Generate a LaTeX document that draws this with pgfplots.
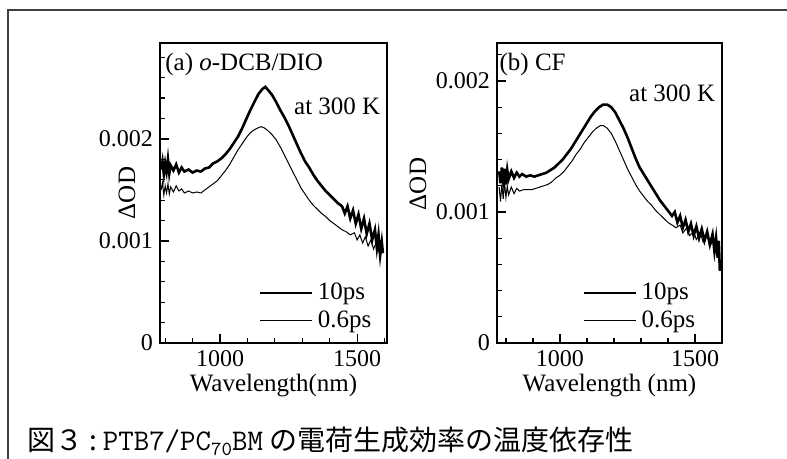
\documentclass[border=0pt]{standalone}
\usepackage{fontspec}
\setmainfont{Liberation Serif}
\newfontfamily\cjk{Noto Sans CJK JP}
\usepackage{pgfplots}
\pgfplotsset{compat=1.18}

% panel (a): o-DCB/DIO
\pgfplotstableread{
wl od
785 0.00170
790 0.00178
795 0.00165
800 0.00176
805 0.00168
810 0.00180
815 0.00166
820 0.00174
830 0.00169
840 0.00175
850 0.00167
860 0.00172
870 0.00168
885 0.00170
900 0.00167
915 0.00169
930 0.00168
945 0.00171
960 0.00172
975 0.00176
990 0.00178
1005 0.00181
1020 0.00185
1035 0.00190
1050 0.00196
1065 0.00202
1080 0.00210
1095 0.00219
1110 0.00228
1125 0.00236
1140 0.00244
1155 0.00249
1165 0.00251
1175 0.00248
1190 0.00243
1205 0.00236
1220 0.00228
1235 0.00221
1250 0.00213
1265 0.00204
1280 0.00195
1295 0.00186
1310 0.00178
1325 0.00172
1340 0.00165
1355 0.00159
1370 0.00154
1385 0.00149
1400 0.00145
1415 0.00141
1430 0.00137
1445 0.00134
1455 0.00127
1465 0.00134
1475 0.00122
1485 0.00130
1495 0.00117
1505 0.00126
1515 0.00112
1525 0.00122
1535 0.00107
1545 0.00117
1555 0.00101
1565 0.00111
1572 0.00093
1578 0.00106
1584 0.00086
1590 0.00099
1594 0.00088
}\aTen
\pgfplotstableread{
wl od
785 0.00150
790 0.00157
795 0.00145
800 0.00154
805 0.00147
810 0.00156
815 0.00146
820 0.00153
830 0.00148
840 0.00154
850 0.00149
860 0.00151
870 0.00147
885 0.00149
900 0.00147
915 0.00148
930 0.00147
945 0.00150
960 0.00153
975 0.00156
990 0.00159
1005 0.00164
1020 0.00169
1035 0.00175
1050 0.00182
1065 0.00189
1080 0.00195
1095 0.00201
1110 0.00206
1125 0.00209
1140 0.00211
1150 0.00212
1160 0.00211
1175 0.00208
1190 0.00204
1205 0.00199
1220 0.00192
1235 0.00184
1250 0.00176
1265 0.00168
1280 0.00160
1295 0.00152
1310 0.00146
1325 0.00140
1340 0.00135
1355 0.00131
1370 0.00127
1385 0.00124
1400 0.00120
1415 0.00117
1430 0.00114
1445 0.00111
1460 0.00109
1475 0.00106
1490 0.00108
1500 0.00101
1510 0.00106
1520 0.00098
1530 0.00104
1540 0.00095
1550 0.00101
1560 0.00092
1570 0.00099
1580 0.00089
1590 0.00095
}\aSix

% panel (b): CF
\pgfplotstableread{
wl od
775 0.00131
780 0.00122
785 0.00134
790 0.00124
795 0.00133
800 0.00121
805 0.00132
810 0.00125
820 0.00131
830 0.00126
840 0.00130
850 0.00127
860 0.00129
875 0.00127
890 0.00128
905 0.00127
920 0.00128
935 0.00129
950 0.00130
965 0.00132
980 0.00134
995 0.00137
1010 0.00140
1025 0.00144
1040 0.00148
1055 0.00153
1070 0.00158
1085 0.00163
1100 0.00168
1115 0.00173
1130 0.00177
1145 0.00180
1160 0.00182
1175 0.00182
1190 0.00180
1205 0.00176
1220 0.00170
1235 0.00164
1250 0.00157
1265 0.00149
1280 0.00141
1295 0.00134
1310 0.00129
1325 0.00124
1340 0.00119
1355 0.00114
1370 0.00109
1385 0.00105
1400 0.00101
1415 0.00097
1425 0.00100
1435 0.00092
1445 0.00097
1455 0.00088
1465 0.00094
1475 0.00085
1485 0.00091
1495 0.00082
1505 0.00089
1515 0.00080
1525 0.00087
1535 0.00078
1545 0.00085
1555 0.00075
1565 0.00083
1572 0.00070
1578 0.00080
1584 0.00065
1588 0.00078
1592 0.00055
}\bTen
\pgfplotstableread{
wl od
775 0.00119
780 0.00108
785 0.00121
790 0.00110
795 0.00122
800 0.00111
805 0.00120
810 0.00113
820 0.00119
830 0.00114
840 0.00118
850 0.00116
865 0.00117
880 0.00117
895 0.00117
910 0.00118
925 0.00119
940 0.00120
955 0.00121
970 0.00123
985 0.00126
1000 0.00128
1015 0.00131
1030 0.00135
1045 0.00139
1060 0.00144
1075 0.00148
1090 0.00153
1105 0.00157
1120 0.00161
1135 0.00164
1150 0.00166
1160 0.00166
1175 0.00164
1190 0.00160
1205 0.00154
1220 0.00147
1235 0.00140
1250 0.00133
1265 0.00127
1280 0.00121
1295 0.00116
1310 0.00112
1325 0.00108
1340 0.00105
1355 0.00101
1370 0.00098
1385 0.00095
1400 0.00092
1415 0.00090
1430 0.00088
1445 0.00090
1455 0.00084
1470 0.00088
1480 0.00082
1495 0.00085
1505 0.00079
1520 0.00084
1530 0.00077
1545 0.00082
1555 0.00074
1570 0.00079
1580 0.00070
1590 0.00076
}\bSix

\pgfplotsset{
  spec/.style={
    scale only axis, height=150pt, ymin=0, clip=false,
    xtick={1000,1500}, xticklabels={1000,1500},
    minor xtick={800,900,1100,1200,1300,1400,1600},
    ytick={0,0.001,0.002}, yticklabels={0,0.001,0.002},
    scaled y ticks=false, scaled x ticks=false,
    tick align=inside, xtick pos=bottom, ytick pos=left,
    major tick length=4.5pt, minor tick length=2.5pt,
    every tick/.style={black, line width=0.6pt},
    axis line style={black, line width=0.7pt},
    tick label style={font=\fontsize{12}{14}\selectfont},
    label style={font=\fontsize{12.5}{14}\selectfont},
    xlabel style={yshift=3pt},
    legend style={draw=none, fill=none, font=\fontsize{12.5}{13}\selectfont,
      cells={anchor=west}, inner sep=0pt, row sep=0pt},
    legend image code/.code={\draw[##1] (0pt,0pt) -- (26pt,0pt);},
  },
  ten/.style={black, line width=1.3pt},
  six/.style={black, line width=0.5pt},
}

\begin{document}
\begin{tikzpicture}
\useasboundingbox (0,0) rectangle (393.5pt,229.5pt);
\draw[black!75, line width=0.6pt] (4pt,0pt) -- (4pt,224.5pt) -- (393.5pt,224.5pt);

\begin{axis}[spec, at={(80pt,58pt)}, anchor=south west, width=113.5pt,
  xmin=781, xmax=1609, ymax=0.00294,
  minor ytick={0.0002,0.0004,0.0006,0.0008,0.0012,0.0014,0.0016,0.0018,0.0022,0.0024,0.0026,0.0028},
  legend style={at={(0.95,0.027)}, anchor=south east},
  xlabel={Wavelength(nm)}]
\addplot[ten] table[x=wl, y=od] {\aTen};
\addlegendentry{10ps}
\addplot[six] table[x=wl, y=od] {\aSix};
\addlegendentry{0.6ps}
\node[anchor=west, inner sep=0pt, font=\fontsize{12.5}{14}\selectfont] at (rel axis cs:0.022,0.927) {(a) \textit{o}-DCB/DIO};
\node[anchor=east, inner sep=0pt, font=\fontsize{12.5}{14}\selectfont] at (rel axis cs:0.972,0.79) {at 300 K};
\node[rotate=90, inner sep=0pt, font=\fontsize{12.5}{14}\selectfont] at (rel axis cs:-0.145,0.5) {ΔOD};
\end{axis}

\begin{axis}[spec, at={(248.5pt,58pt)}, anchor=south west, width=112.5pt,
  xmin=767, xmax=1600, ymax=0.00229,
  minor ytick={0.0002,0.0004,0.0006,0.0008,0.0012,0.0014,0.0016,0.0018,0.0022},
  legend style={at={(0.90,0.027)}, anchor=south east},
  xlabel={Wavelength (nm)}]
\addplot[ten] table[x=wl, y=od] {\bTen};
\addlegendentry{10ps}
\addplot[six] table[x=wl, y=od] {\bSix};
\addlegendentry{0.6ps}
\node[anchor=west, inner sep=0pt, font=\fontsize{12.5}{14}\selectfont] at (rel axis cs:0.01,0.927) {(b) CF};
\node[anchor=east, inner sep=0pt, font=\fontsize{12.5}{14}\selectfont] at (rel axis cs:0.972,0.833) {at 300 K};
\node[rotate=90, inner sep=0pt, font=\fontsize{12.5}{14}\selectfont] at (rel axis cs:-0.351,0.53) {ΔOD};
\end{axis}

% caption, in three pieces
\node[anchor=base west, inner sep=0pt, font=\cjk\fontsize{14}{16}\selectfont] (c1) at (13.5pt,4pt) {図３ :\,};
\node[anchor=base west, inner sep=0pt, font=\ttfamily\fontsize{15}{17}\selectfont] (c2) at (c1.base east)
  {PTB7/PC\raisebox{-2.5pt}{\fontsize{10}{11}\selectfont 70}BM};
\node[anchor=base west, inner sep=0pt, font=\cjk\fontsize{14}{16}\selectfont] at ([xshift=3pt]c2.base east) {の電荷生成効率の温度依存性};
\end{tikzpicture}
\end{document}
